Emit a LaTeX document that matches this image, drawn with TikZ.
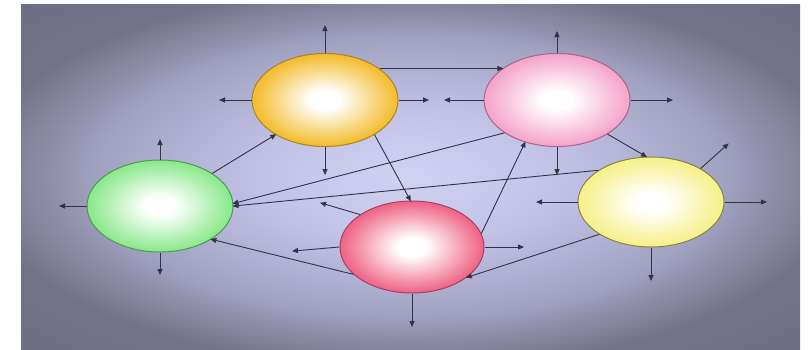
\documentclass[tikz,border=0pt]{standalone}
\usetikzlibrary{shapes.geometric,arrows.meta}
\definecolor{bgin}{HTML}{D2D3F3}
\definecolor{bgm1}{HTML}{C0C1E5}
\definecolor{bgm2}{HTML}{A2A2C2}
\definecolor{bgout}{HTML}{727289}
\definecolor{bgcor}{HTML}{66667C}
\definecolor{orC}{HTML}{F4BE33}
\definecolor{orB}{HTML}{A98420}
\definecolor{piC}{HTML}{F5A6CB}
\definecolor{piB}{HTML}{A8648A}
\definecolor{grC}{HTML}{8EE98E}
\definecolor{grB}{HTML}{4C9A4C}
\definecolor{reC}{HTML}{EF6889}
\definecolor{reB}{HTML}{A83E5E}
\definecolor{yeC}{HTML}{F6F18C}
\definecolor{yeB}{HTML}{858442}
\definecolor{lineC}{HTML}{333344}
\pgfdeclareradialshading{bgshade}{\pgfpoint{0bp}{0bp}}{color(0bp)=(bgin); color(10bp)=(bgm1); color(20bp)=(bgm2); color(28bp)=(bgout); color(50bp)=(bgcor)}
\pgfdeclareradialshading{orball}{\pgfpoint{0bp}{0bp}}{color(0bp)=(white); color(5bp)=(white); color(24bp)=(orC); color(50bp)=(orC)}
\pgfdeclareradialshading{piball}{\pgfpoint{0bp}{0bp}}{color(0bp)=(white); color(5bp)=(white); color(24bp)=(piC); color(50bp)=(piC)}
\pgfdeclareradialshading{grball}{\pgfpoint{0bp}{0bp}}{color(0bp)=(white); color(5bp)=(white); color(24bp)=(grC); color(50bp)=(grC)}
\pgfdeclareradialshading{reball}{\pgfpoint{0bp}{0bp}}{color(0bp)=(white); color(5bp)=(white); color(24bp)=(reC); color(50bp)=(reC)}
\pgfdeclareradialshading{yeball}{\pgfpoint{0bp}{0bp}}{color(0bp)=(white); color(5bp)=(white); color(24bp)=(yeC); color(50bp)=(yeC)}
\tikzset{
  ball/.style={ellipse, inner sep=0pt, line width=1pt, minimum width=146pt, minimum height=93pt},
  arr/.style={draw=lineC, line width=0.9pt, -{Triangle[length=6pt,width=5pt]}, shorten >=-1pt}
}
\begin{document}
\begin{tikzpicture}[x=1pt,y=-1pt]
\useasboundingbox (0,0) rectangle (812,349);
\fill[white] (0,0) rectangle (812,349);
\shade[shading=bgshade] (21,4) rectangle (800,349);

\node[ball, draw=orB, shading=orball] (A) at (325,100) {};
\node[ball, draw=piB, shading=piball] (B) at (557,100) {};
\node[ball, draw=grB, shading=grball, minimum height=92pt] (C) at (160,206) {};
\node[ball, draw=reB, shading=reball, minimum width=144pt, minimum height=92pt] (D) at (412,247) {};
\node[ball, draw=yeB, shading=yeball, minimum height=90pt] (E) at (651,202) {};

% stub end points
\coordinate (aU) at (325,26);
\coordinate (aL) at (220,100);
\coordinate (aR) at (428,100);
\coordinate (aD) at (325,174);
\coordinate (bU) at (557,32);
\coordinate (bL) at (445,100);
\coordinate (bR) at (672,100);
\coordinate (bD) at (557,174);
\coordinate (cU) at (160,140);
\coordinate (cL) at (60,206);
\coordinate (cD) at (160,274);
\coordinate (dUL) at (321,203);
\coordinate (dL) at (293,251);
\coordinate (dR) at (523,247);
\coordinate (dD) at (412,326);
\coordinate (eUR) at (728,144);
\coordinate (eL) at (537,202);
\coordinate (eR) at (766,202);
\coordinate (eD) at (651,280);

% stubs
\draw[arr] (A.north) -- (aU);
\draw[arr] (A.west) -- (aL);
\draw[arr] (A.east) -- (aR);
\draw[arr] (A.south) -- (aD);
\draw[arr] (B.north) -- (bU);
\draw[arr] (B.west) -- (bL);
\draw[arr] (B.east) -- (bR);
\draw[arr] (B.south) -- (bD);
\draw[arr] (C.north) -- (cU);
\draw[arr] (C.west) -- (cL);
\draw[arr] (C.south) -- (cD);
\draw[arr] (D.148) -- (dUL);
\draw[arr] (D.west) -- (dL);
\draw[arr] (D.east) -- (dR);
\draw[arr] (D.south) -- (dD);
\draw[arr] (E.34) -- (eUR);
\draw[arr] (E.west) -- (eL);
\draw[arr] (E.east) -- (eR);
\draw[arr] (E.south) -- (eD);

% connections
\draw[arr] (A.30) -- (B.150);
\draw[arr] (C.32) -- (A.215);
\draw[arr] (B.212) -- (C.2);
\draw[arr] (E.149) -- (C.0);
\draw[arr] (D.205) -- (C.327);
\draw[arr] (A.325) -- (D.92);
\draw[arr] (D.11) -- (B.233);
\draw[arr] (E.212) -- (D.331);
\draw[arr] (B.326) -- (E.96);
\end{tikzpicture}
\end{document}
